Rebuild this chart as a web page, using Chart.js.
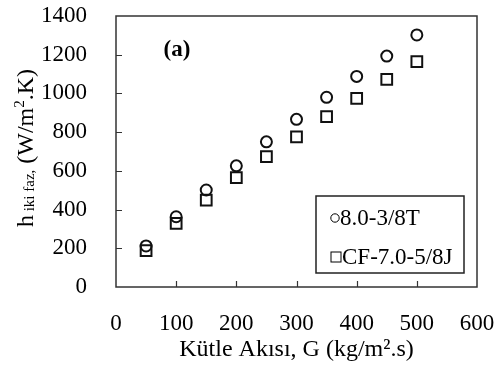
<!DOCTYPE html>
<html><head><meta charset="utf-8">
<script src="https://cdn.jsdelivr.net/npm/chart.js@4/dist/chart.umd.min.js"></script>
<style>html,body{margin:0;padding:0;background:#fff}#wrap{width:498px;height:368px}</style>
</head><body><div id="wrap"><canvas id="c" width="498" height="368"></canvas></div>
<script>
// ---- data ----
const massFlux = [50, 100, 150, 200, 250, 300, 350, 400, 450, 500];
const label1 = '8.0-3/8T';
const hTwoPhase1 = [212, 363, 501, 626, 750, 866, 980, 1088, 1193, 1302];
const label2 = 'CF-7.0-5/8J';
const hTwoPhase2 = [188, 329, 449, 565, 673, 776, 880, 975, 1073, 1164];
const xTicks = [0, 100, 200, 300, 400, 500, 600];
const yTicks = [0, 200, 400, 600, 800, 1000, 1200, 1400];
const xTitle = 'Kütle Akısı, G (kg/m².s)';
const yTitleMain = 'h';
const yTitleSub = ' iki faz,';
const yTitleUnitA = ' (W/m';
const yTitleSup = '2';
const yTitleUnitB = '.K)';
const panelLabel = '(a)';

const FONT = '"Liberation Serif", "Times New Roman", serif';

const overlay = {
  id: 'overlay',
  afterDraw(chart) {
    const ctx = chart.ctx;
    const a = chart.chartArea;
    const xs = chart.scales.x, ys = chart.scales.y;
    ctx.save();
    // frame
    ctx.strokeStyle = '#333';
    ctx.lineWidth = 1.5;
    ctx.strokeRect(a.left, a.top, a.right - a.left, a.bottom - a.top);
    // inward ticks
    ctx.lineWidth = 1.2;
    ctx.beginPath();
    yTicks.slice(1, -1).forEach(v => {
      const y = Math.round(ys.getPixelForValue(v)) + 0.5;
      ctx.moveTo(a.left, y); ctx.lineTo(a.left + 6, y);
    });
    xTicks.slice(1, -1).forEach(v => {
      const x = Math.round(xs.getPixelForValue(v)) + 0.5;
      ctx.moveTo(x, a.bottom); ctx.lineTo(x, a.bottom - 6);
    });
    ctx.stroke();

    // panel label
    ctx.fillStyle = '#000';
    ctx.font = 'bold 23px ' + FONT;
    ctx.textAlign = 'center';
    ctx.textBaseline = 'middle';
    ctx.fillText(panelLabel, 177, 50);

    // legend
    const lx = 316, ly = 196, lw = 148, lh = 77;
    ctx.fillStyle = '#fff';
    ctx.fillRect(lx, ly, lw, lh);
    ctx.strokeStyle = '#222';
    ctx.lineWidth = 1.5;
    ctx.strokeRect(lx, ly, lw, lh);
    ctx.lineWidth = 1;
    ctx.strokeStyle = '#000';
    ctx.beginPath();
    ctx.arc(335, 218, 4.2, 0, Math.PI * 2);
    ctx.stroke();
    ctx.strokeRect(331, 252, 10, 10);
    ctx.fillStyle = '#000';
    ctx.font = '23px ' + FONT;
    ctx.textAlign = 'left';
    ctx.textBaseline = 'middle';
    ctx.fillText(chart.data.datasets[0].label, 340, 219);
    ctx.fillText(chart.data.datasets[1].label, 342, 258);

    // y title with subscript / superscript
    const parts = [
      {t: yTitleMain, s: 24, dy: 0},
      {t: yTitleSub, s: 15, dy: 1},
      {t: yTitleUnitA, s: 24, dy: 0},
      {t: yTitleSup, s: 15, dy: -9},
      {t: yTitleUnitB, s: 24, dy: 0}
    ];
    let total = 0;
    parts.forEach(p => { ctx.font = p.s + 'px ' + FONT; p.w = ctx.measureText(p.t).width; total += p.w; });
    ctx.translate(33, 148);
    ctx.rotate(-Math.PI / 2);
    ctx.textBaseline = 'alphabetic';
    ctx.textAlign = 'left';
    let px = -total / 2;
    parts.forEach(p => {
      ctx.font = p.s + 'px ' + FONT;
      ctx.fillText(p.t, px, p.dy);
      px += p.w;
    });
    ctx.restore();
  }
};

new Chart(document.getElementById('c'), {
  type: 'scatter',
  data: {
    datasets: [
      {
        label: label1,
        data: massFlux.map((x, i) => ({x, y: hTwoPhase1[i]})),
        pointStyle: 'circle',
        pointRadius: 5.5,
        pointBorderWidth: 2,
        pointBorderColor: '#111',
        pointBackgroundColor: 'rgba(255,255,255,0)'
      },
      {
        label: label2,
        data: massFlux.map((x, i) => ({x, y: hTwoPhase2[i]})),
        pointStyle: 'rect',
        pointRadius: 7.6,
        pointBorderWidth: 2,
        pointBorderColor: '#111',
        pointBackgroundColor: 'rgba(255,255,255,0)'
      }
    ]
  },
  options: {
    responsive: false,
    animation: false,
    devicePixelRatio: 1,
    layout: {padding: {top: 16, right: 21, left: 0, bottom: 0}},
    plugins: {legend: {display: false}, tooltip: {enabled: false}},
    scales: {
      x: {
        type: 'linear', min: 0, max: 600,
        afterBuildTicks: s => { s.ticks = xTicks.map(v => ({value: v})); },
        afterFit: s => { s.height = 81; s.paddingLeft = 0; s.paddingRight = 0; },
        grid: {display: false},
        border: {display: false},
        ticks: {color: '#000', font: {family: FONT, size: 23}, padding: 15, maxRotation: 0, callback: v => String(v)},
        title: {display: true, text: xTitle, color: '#000', font: {family: FONT, size: 24}, padding: {top: 0, bottom: 4}}
      },
      y: {
        type: 'linear', min: 0, max: 1400,
        afterBuildTicks: s => { s.ticks = yTicks.map(v => ({value: v})); },
        afterFit: s => { s.width = 116; s.paddingTop = 0; s.paddingBottom = 0; },
        grid: {display: false},
        border: {display: false},
        ticks: {color: '#000', font: {family: FONT, size: 23}, padding: 21, callback: v => String(v)}
      }
    }
  },
  plugins: [overlay]
});
</script>
</body></html>
